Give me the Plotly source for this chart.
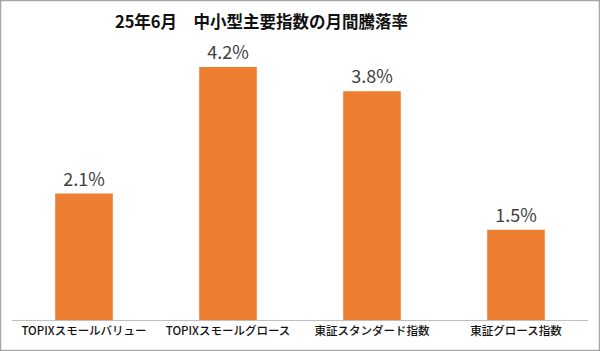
import plotly.graph_objects as go

categories = ["TOPIXスモールバリュー", "TOPIXスモールグロース", "東証スタンダード指数", "東証グロース指数"]
values = [2.1, 4.2, 3.8, 1.5]
labels = ["2.1%", "4.2%", "3.8%", "1.5%"]
title_text = "25年6月\u3000中小型主要指数の月間騰落率"

W, H = 600, 351
ML, MR, MT, MB = 12, 12, 49, 31
PW = W - ML - MR
PH = H - MT - MB

fig = go.Figure(go.Bar(
    x=categories, y=values, text=labels, textposition="outside",
    marker=dict(color="#ED7D31", line=dict(width=0)),
    textfont=dict(family="Noto Sans CJK JP", size=18, color="#404040", weight=400),
    cliponaxis=False, width=0.4,
))

fig.update_layout(
    width=W, height=H,
    margin=dict(l=ML, r=MR, t=MT, b=MB),
    paper_bgcolor="white", plot_bgcolor="white",
    showlegend=False,
    title=dict(text=title_text, x=(261.5 - ML) / PW, xref="paper", xanchor="center",
               y=1 - 22 / H, yanchor="middle",
               font=dict(family="Noto Sans CJK JP", size=16.5, color="#111111", weight=600)),
    xaxis=dict(showline=True, linecolor="#BFBFBF", linewidth=1, ticks="",
               tickfont=dict(family="Noto Sans CJK JP", size=11.5, color="#111111", weight=500),
               showgrid=False),
    yaxis=dict(range=[0, 4.5], visible=False, showgrid=False),
    shapes=[dict(type="rect", xref="paper", yref="paper",
                 x0=(0.5 - ML) / PW, x1=(W - 0.5 - ML) / PW,
                 y0=-(MB - 0.5) / PH, y1=1 + (MT - 0.5) / PH,
                 line=dict(color="#A6A6A6", width=1.5), fillcolor="rgba(0,0,0,0)", layer="above")],
)

fig.write_html("out.html")
